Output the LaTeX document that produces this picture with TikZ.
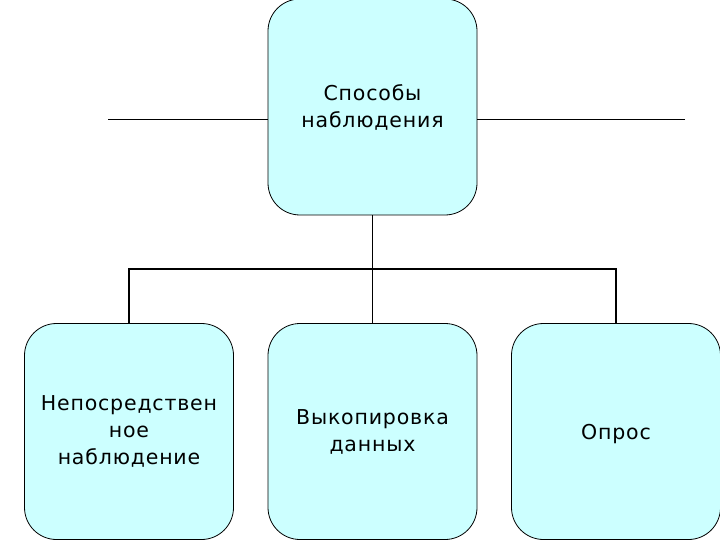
\documentclass[tikz,border=0pt]{standalone}
\usepackage{fontspec}
\newfontfamily\boxfont[LetterSpace=4]{DejaVu Sans}
\begin{document}
\begin{tikzpicture}[x=1pt,y=-1pt,
  blok/.style={draw=black, line width=0.8pt, fill=boxcyan, rounded corners=32pt,
    minimum width=209pt, minimum height=216pt, inner sep=0pt,
    execute at begin node={\rule{0pt}{21pt}},
    align=center, font=\boxfont\fontsize{20.5pt}{27pt}\selectfont},
  conn/.style={line width=1.4pt, black}]
\definecolor{boxcyan}{HTML}{CCFFFF}
\useasboundingbox (0,0) rectangle (720,540);
\node[blok] (top) at (372.5,107) {Способы\\наблюдения};
\node[blok] (b1) at (129,431.5) {Непосредствен\\ное\\наблюдение};
\node[blok] (b2) at (372.5,431.5) {Выкопировка\\данных};
\node[blok] (b3) at (616,431.5) {Опрос};
\coordinate (j) at (372.5,269);
\coordinate (l) at (108,120);
\coordinate (r) at (685,120);
\draw[conn] (top.south) -- (j);
\draw[conn] (b1.north) |- (j);
\draw[conn] (b3.north) |- (j);
\draw[conn] (b2.north) -- (j);
\draw[line width=1pt] (l) -- (top.west |- l);
\draw[line width=1pt] (r) -- (top.east |- r);
\end{tikzpicture}
\end{document}
